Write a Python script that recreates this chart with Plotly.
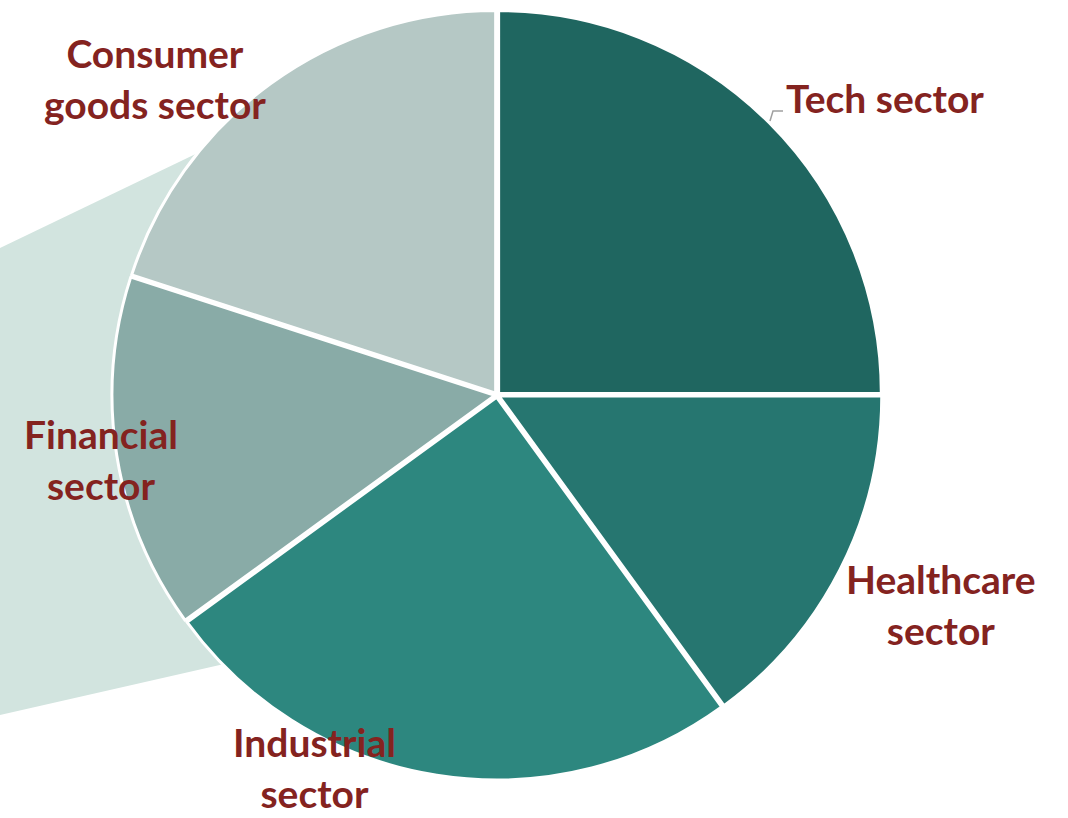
import plotly.graph_objects as go

# Sector shares (percent), clockwise from 12 o'clock
sectors = ["Tech sector", "Healthcare sector", "Industrial sector",
           "Financial sector", "Consumer goods sector"]
shares = [25, 15, 25, 15, 20]
colors = ["#1f6660", "#267670", "#2d877f", "#89aba7", "#b5c8c5"]

# Two-line label text shown around the pie
label_text = ["Tech sector", "Healthcare<br>sector", "Industrial<br>sector",
              "Financial<br>sector", "Consumer<br>goods sector"]

W, H = 1068, 818


def px(x):
    return x / W


def py(y):
    return 1 - y / H


fig = go.Figure()

fig.add_trace(go.Pie(
    labels=sectors,
    values=shares,
    sort=False,
    direction="clockwise",
    rotation=0,
    marker=dict(colors=colors, line=dict(color="white", width=3)),
    pull=[0.006] * len(shares),
    textinfo="none",
    hoverinfo="label+percent",
    showlegend=False,
    domain=dict(x=[px(112), px(882)], y=[py(780), py(10)]),
))

# Light teal band behind the left part of the pie
band = (f"M {px(0)} {py(248)} L {px(400)} {py(56)} "
        f"L {px(400)} {py(624)} L {px(0)} {py(715)} Z")
fig.add_shape(type="path", path=band, xref="paper", yref="paper",
              fillcolor="#d2e4df", line=dict(width=0), layer="below")

# Leader line for the Tech label
leader = (f"M {px(770)} {py(121)} L {px(773)} {py(111)} L {px(783)} {py(111)}")
fig.add_shape(type="path", path=leader, xref="paper", yref="paper",
              line=dict(color="#a0a0a0", width=1.5))

label_pos = [(885, 98), (941, 604), (314, 767), (101, 459), (155, 79)]
for txt, (x, y) in zip(label_text, label_pos):
    fig.add_annotation(
        x=px(x), y=py(y), xref="paper", yref="paper",
        text=f"<b>{txt}</b>", showarrow=False,
        xanchor="center", yanchor="middle", align="center",
        borderpad=0,
        font=dict(family="Lato", size=39, color="#84231f"),
    )

fig.update_layout(
    width=W, height=H,
    margin=dict(l=0, r=0, t=0, b=0),
    paper_bgcolor="white",
    plot_bgcolor="white",
)

fig.write_html("out.html")
